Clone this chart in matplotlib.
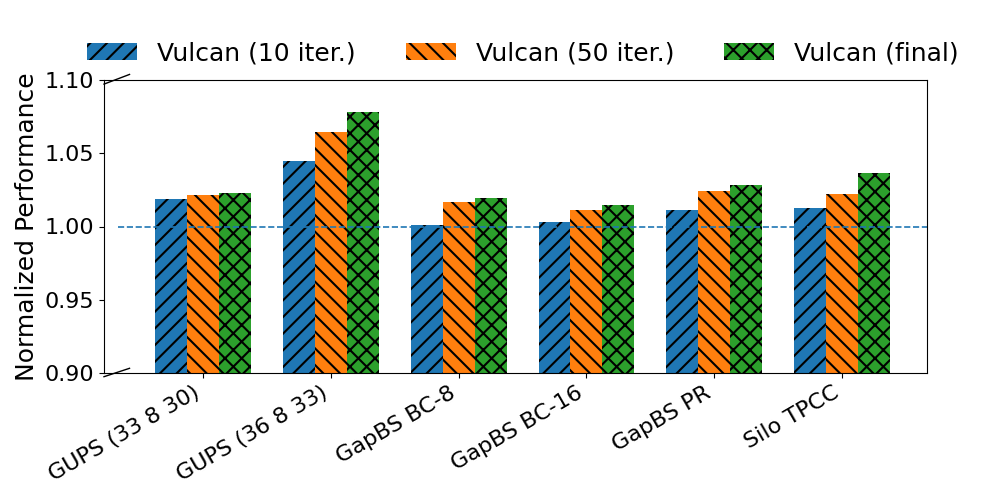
import numpy as np
import matplotlib
matplotlib.use('Agg')
import matplotlib.pyplot as plt

workloads = ['GUPS (33 8 30)', 'GUPS (36 8 33)', 'GapBS BC-8', 'GapBS BC-16', 'GapBS PR', 'Silo TPCC']
iter10 = [1.0186, 1.0447, 1.0007, 1.003, 1.011, 1.0124]
iter50 = [1.0213, 1.0646, 1.0165, 1.011, 1.024, 1.022]
final = [1.0227, 1.0784, 1.0193, 1.0144, 1.028, 1.0365]
labels = ['Vulcan (10 iter.)', 'Vulcan (50 iter.)', 'Vulcan (final)']

if __name__ == "__main__":
    plt.rcParams['hatch.linewidth'] = 1.5
    fig = plt.figure(figsize=(10, 5), dpi=100)
    ax = fig.add_axes([0.104, 0.254, 0.823, 0.586])
    x = np.arange(len(workloads))
    w = 0.25
    series = [iter10, iter50, final]
    colors = ['#1f77b4', '#ff7f0e', '#2ca02c']
    hatches = ['//', '\\\\', 'xx']
    for i in range(3):
        ax.bar(x + (i - 1) * w, series[i], w, color=colors[i], edgecolor='black',
               linewidth=0, hatch=hatches[i], label=labels[i])

    ax.set_ylim(0.90, 1.10)
    ax.set_xlim(-0.775, 5.665)
    ax.axhline(1.0, xmin=0.017, xmax=1, linestyle='--', color='#1f77b4', linewidth=1.2)

    # broken axis marks
    kw = dict(transform=ax.transAxes, color='black', clip_on=False, linewidth=1)
    ax.plot([0, 0.031], [-0.0126, 0.016], **kw)
    ax.plot([0, 0.031], [0.986, 1.019], **kw)

    ax.set_yticks([0.90, 0.95, 1.00, 1.05, 1.10])
    ax.set_yticklabels(['0.90', '0.95', '1.00', '1.05', '1.10'])
    ax.set_xticks(x)
    ax.set_xticklabels(workloads, rotation=30, ha='right')
    ax.tick_params(axis='both', labelsize=16)
    ax.set_ylabel('Normalized Performance', fontsize=18, labelpad=4)

    ax.legend(loc='center', bbox_to_anchor=(0.523, 0.894), bbox_transform=fig.transFigure,
              ncol=3, frameon=False, fontsize=18, columnspacing=2.0, handletextpad=0.8)

    fig.savefig('out.png', dpi=100)
